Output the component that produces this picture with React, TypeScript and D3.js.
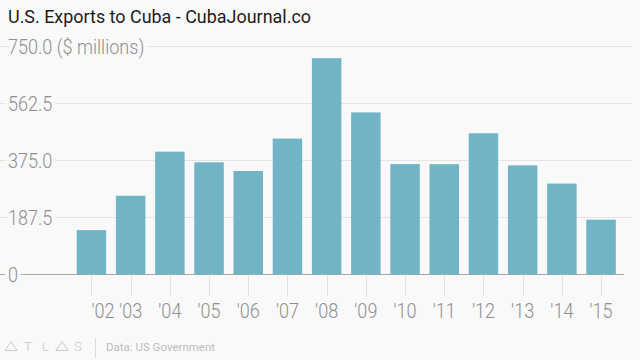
import React from "react";
import * as d3 from "d3";

const years = ["'02", "'03", "'04", "'05", "'06", "'07", "'08", "'09", "'10", "'11", "'12", "'13", "'14", "'15"];
const exportsMillions = [145.9, 259.1, 404.1, 369.0, 340.4, 447.1, 711.5, 533.2, 363.1, 362.8, 464.6, 359.0, 299.1, 180.3];
const yTicks = [0, 187.5, 375, 562.5, 750];
const yTickLabels = ["0", "187.5", "375.0", "562.5", "750.0 ($ millions)"];
const title = "U.S. Exports to Cuba - CubaJournal.co";
const source = "Data: US Government";

const W = 640;
const H = 360;
const BG = "#f9f9f9";
const BAR = "#70b4c5";
const AXIS_TEXT = "#8e8e8e";
const FONT = "Roboto, 'Open Sans', sans-serif";
const SX = 0.86;
const LOGO = "#cccccc";

function Delta({ x0 }: { x0: number }) {
  return <path d={`M${x0},350.5 L${x0 + 6},341.5 L${x0 + 12},350.5 Z`} fill="none" stroke={LOGO} strokeWidth={1} strokeLinejoin="miter" />;
}

export default function App() {
  const x = d3.scaleBand<string>().domain(years).range([76.7, 615.8]).paddingInner(0.248).paddingOuter(0);
  const y = d3.scaleLinear().domain([0, 750]).range([274.5, 46.5]);
  const bw = x.bandwidth();

  return (
    <div style={{ position: "absolute", left: 0, top: 0 }}>
      <svg width={W} height={H} style={{ display: "block", background: BG }}>
        <rect x={0} y={0} width={W} height={H} fill={BG} />
        <text x={8} y={23} fontFamily={FONT} fontSize={18.5} fontWeight={400} fill="#1c1c1c" textLength={303} lengthAdjust="spacingAndGlyphs">
          {title}
        </text>

        {/* gridlines */}
        {yTicks.map((t, i) => (
          <line
            key={"g" + i}
            x1={0}
            x2={t === 0 ? 624 : 632}
            y1={y(t)}
            y2={y(t)}
            stroke={t === 0 ? "#a8a8a8" : "#e4e4e4"}
            strokeWidth={1}
          />
        ))}

        {/* tick marks */}
        {years.map((yr) => (
          <line
            key={"t" + yr}
            x1={Math.round(x(yr)! + bw / 2) + 0.5}
            x2={Math.round(x(yr)! + bw / 2) + 0.5}
            y1={y(0)}
            y2={296}
            stroke="#e0e0e0"
          />
        ))}

        {/* bars */}
        {years.map((yr, i) => (
          <rect
            key={"b" + yr}
            x={x(yr)!}
            y={y(exportsMillions[i])}
            width={bw}
            height={y(0) - y(exportsMillions[i])}
            fill={BAR}
          />
        ))}

        {/* y labels */}
        {yTicks.map((t, i) => (
          <text
            key={"yl" + i}
            transform={`translate(8,${y(t) + 7.5}) scale(${SX},1)`}
            fontFamily={FONT}
            fontSize={21}
            fontWeight={300}
            fill={AXIS_TEXT}
            stroke={BG}
            strokeWidth={9}
            paintOrder="stroke"
            strokeLinejoin="round"
          >
            {yTickLabels[i]}
          </text>
        ))}

        {/* x labels */}
        {years.map((yr, i) => (
          <text
            key={"xl" + yr}
            transform={`translate(${x(yr)! + bw / 2},318) scale(${SX},1)`}
            textAnchor={i === 0 ? "start" : "middle"}
            fontFamily={FONT}
            fontSize={21}
            fontWeight={300}
            fill={AXIS_TEXT}
          >
            {yr}
          </text>
        ))}

        {/* footer logo */}
        <Delta x0={5} />
        <text x={23} y={350.5} fontFamily={FONT} fontSize={13} fontWeight={300} fill={LOGO} textLength={10} lengthAdjust="spacingAndGlyphs">T</text>
        <text x={42} y={350.5} fontFamily={FONT} fontSize={13} fontWeight={300} fill={LOGO}>L</text>
        <Delta x0={56} />
        <text x={74} y={350.5} fontFamily={FONT} fontSize={13} fontWeight={300} fill={LOGO}>S</text>
        <line x1={95.5} x2={95.5} y1={338} y2={358} stroke="#dcdcdc" />
        <text x={106} y={350.5} fontFamily={FONT} fontSize={11.5} fill="#bdbdbd">
          {source}
        </text>
      </svg>
    </div>
  );
}
